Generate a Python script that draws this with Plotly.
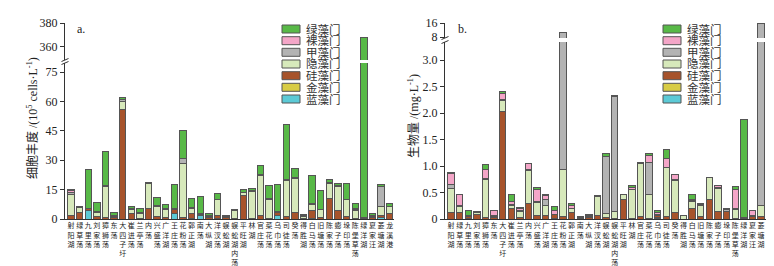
import plotly.graph_objects as go

# ---------------- data ----------------
lakes = ["射阳湖", "绿草荡", "九里荡", "刘家荡", "獐狮荡", "东荡", "大四子圩", "崔进荡", "兰亭荡", "内荡",
         "兴盛荡", "广洋湖", "王庄荡", "花粉荡", "郭正湖", "南荡", "大纵湖", "洋汊荡", "蜈蚣湖", "蜈蚣湖内荡",
         "平旺湖", "林湖", "官庄荡", "菜花荡", "乌巾荡", "司徒荡", "癸荡", "得胜湖", "白马荡", "旧塘荡",
         "陈家荡", "蟛子荡", "垛印荡", "陈堡草荡", "绿洋湖", "夏家汪", "菱塘湖", "龙溪港"]

# stacking order bottom -> top
phyla = ["蓝藻门", "金藻门", "硅藻门", "隐藻门", "甲藻门", "裸藻门", "绿藻门"]
phyla_colors = ["#5ccad6", "#d8cc45", "#a7532b", "#d7e9bb", "#b3b3b3", "#f4a6c8", "#58b947"]

# panel a: cell abundance (10^5 cells/L)
abund_lan = [0, 0, 4.5, 0, 0, 0, 0, 0, 0, 0, 0, 0, 3, 0, 0.5, 2, 0, 0, 0, 0,
             0, 0, 0, 0, 1.7, 0, 0, 0, 0.5, 0, 0, 0, 0, 0, 0, 0, 0.6, 0]
abund_jin = [0, 0, 0, 0, 0, 0, 0, 0, 0, 0, 0, 0, 0, 0, 0, 0, 0, 0.3, 0, 0,
             0, 0, 0, 0, 0.3, 0, 0, 0, 0, 0, 0, 0, 0, 0, 0, 0, 0, 0]
abund_gui = [2, 3.5, 0.8, 1.5, 0.8, 0.8, 56, 3, 0.5, 5.5, 1.2, 1, 2, 1, 2.5, 0.5, 1, 1.5, 0.8, 0.3,
             12, 0.3, 1.7, 0.3, 1.5, 1.3, 3.5, 0.3, 4, 0.7, 10.3, 4.5, 1.2, 0.2, 0.5, 1, 1.4, 2.6]
abund_yin = [10.5, 2.5, 0, 1.8, 16, 0.5, 4, 2, 2.5, 12.5, 5, 3.8, 0, 27.5, 2.5, 0, 0.5, 8, 0.3, 3.8,
             1.3, 13.5, 20.5, 9.5, 0, 18.5, 17, 1.2, 3, 4, 7.9, 12, 8.6, 4.2, 0.5, 0.5, 4.6, 3.7]
abund_jia = [1, 0.4, 0.3, 0.3, 0.5, 0.3, 1.2, 0.3, 0.3, 0.5, 0.4, 0.5, 0.3, 2.5, 0.3, 0.3, 0.2, 0, 0, 0.5,
             0.4, 0.5, 0.5, 0.5, 0.5, 0.5, 0.5, 0.2, 0.3, 0.3, 0.3, 0.5, 0.3, 0.4, 0, 0.2, 10, 0.2]
abund_luo = [0.8, 0, 0, 0, 0, 0, 0, 0, 0, 0, 0.5, 0, 0, 0, 0, 0, 0, 0, 0, 0,
             0, 0, 0, 0, 0, 0, 0, 0, 0, 0, 0, 0, 0, 0.5, 0, 0, 0, 0]
abund_lv = [0.5, 0, 19.5, 5, 17, 1.5, 0.8, 1, 2, 0, 3.8, 2, 12.5, 14, 4.5, 8.5, 1, 3, 0.5, 0,
            1.3, 1.2, 4.5, 7, 13.6, 28, 5, 0.8, 14.5, 9.5, 1.8, 1, 8, 2.4, 367, 1, 1, 1.4]

# panel b: biomass (mg/L)
bio_lan = [0, 0, 0.01, 0, 0, 0, 0, 0, 0, 0, 0, 0, 0.01, 0, 0, 0.01, 0, 0, 0, 0,
           0, 0, 0, 0, 0.01, 0, 0, 0, 0, 0, 0, 0, 0, 0, 0, 0, 0, 0]
bio_jin = [0, 0, 0, 0, 0, 0, 0, 0, 0, 0, 0, 0, 0, 0, 0, 0, 0, 0, 0, 0,
           0, 0, 0, 0, 0.01, 0, 0, 0, 0, 0, 0, 0, 0, 0, 0, 0, 0, 0]
bio_gui = [0.13, 0.12, 0.04, 0.08, 0.02, 0.02, 2.03, 0.19, 0.02, 0.3, 0.06, 0.06, 0.07, 0.05, 0.12, 0.02, 0.03, 0.07, 0.02, 0.01,
           0.37, 0.01, 0.05, 0.01, 0.04, 0.05, 0.12, 0, 0.19, 0.04, 0.37, 0.14, 0.14, 0.01, 0.01, 0.05, 0.04, 0.09]
bio_yin = [0.45, 0.12, 0.01, 0.04, 0.73, 0.02, 0.2, 0.07, 0.12, 0.62, 0.25, 0.2, 0, 0.88, 0.07, 0, 0.02, 0.35, 0.08, 0.13,
           0.09, 0.55, 1.0, 0.46, 0, 0.92, 0.6, 0.06, 0.14, 0.21, 0.41, 0.44, 0, 0.16, 0.01, 0.01, 0.22, 0.18]
bio_jia = [0.08, 0.02, 0.01, 0.01, 0.02, 0.02, 0.02, 0.02, 0.02, 0.01, 0.02, 0.1, 0.01, 9.5, 0.01, 0, 0.02, 0, 1.08, 2.17,
           0.01, 0, 0.01, 0.6, 0.02, 0, 0.02, 0.01, 0.02, 0, 0, 0.02, 0.04, 0.02, 0, 0, 15.3, 0.01]
bio_luo = [0.2, 0.2, 0, 0, 0.16, 0.1, 0.12, 0.05, 0.04, 0.11, 0.22, 0.08, 0.07, 0, 0.06, 0, 0, 0, 0, 0,
           0, 0.04, 0, 0.12, 0.05, 0.17, 0.1, 0, 0.02, 0.02, 0, 0.03, 0.01, 0.36, 0, 0.1, 0, 0]
bio_lv = [0.02, 0, 0.09, 0.02, 0.1, 0, 0.04, 0.13, 0.01, 0, 0.05, 0.02, 0.08, 0, 0.03, 0.02, 0.01, 0.02, 0.05, 0.02,
          0, 0.03, 0, 0.05, 0.03, 0.17, 0, 0, 0.1, 0.02, 0, 0, 0, 0.07, 1.85, 0, 0, 0]

abund_series = [abund_lan, abund_jin, abund_gui, abund_yin, abund_jia, abund_luo, abund_lv]
bio_series = [bio_lan, bio_jin, bio_gui, bio_yin, bio_jia, bio_luo, bio_lv]

# ---------------- layout helpers ----------------
W, H = 774, 266
ML, MR, MT, MB = 57, 0, 15, 55
PW, PH = W - ML - MR, H - MT - MB


def px_x(x):
    return (x - ML) / PW


def px_y(y):
    return (H - MB - y) / PH


SERIF = "Liberation Serif, Times New Roman, Noto Sans CJK SC, serif"
EDGE = "#555555"
xs = list(range(len(lakes)))
vert_labels = ["<br>".join(list(n)) for n in lakes]

fig = go.Figure()


def nz(vals):
    return [v if v else None for v in vals]


for series, (xa, ylo, yhi) in [(abund_series, ("x", "y", "y2")), (bio_series, ("x2", "y3", "y4"))]:
    for name, col, vals in zip(phyla, phyla_colors, series):
        for ya in (ylo, yhi):
            fig.add_trace(go.Bar(
                x=xs, y=nz(vals), name=name, xaxis=xa, yaxis=ya,
                marker=dict(color=col, line=dict(color=EDGE, width=1)),
                width=0.74, showlegend=False))

axis_common = dict(showline=True, linecolor="#333", linewidth=1, showgrid=False, zeroline=False,
                   tickfont=dict(family=SERIF, size=12, color="#222"))
xcommon = dict(showline=True, linecolor="#333", linewidth=1, showgrid=False, zeroline=False,
               range=[-0.7, 37.5], tickmode="array", tickvals=xs, ticktext=vert_labels, ticks="",
               tickangle=0, tickfont=dict(family=SERIF, size=7, color="#222"))
ycommon = dict(axis_common, ticks="outside", ticklen=4, tickcolor="#333", tickmode="array")

fig.update_layout(
    width=W, height=H, margin=dict(l=ML, r=MR, t=MT, b=MB),
    paper_bgcolor="white", plot_bgcolor="white",
    barmode="stack", bargap=0.26,
    xaxis=dict(xcommon, domain=[0, px_x(386)], anchor="y"),
    yaxis=dict(ycommon, domain=[0, px_y(55)], range=[0, 79.6], anchor="x",
               tickvals=[0, 15, 30, 45, 60, 75]),
    yaxis2=dict(ycommon, domain=[px_y(52), 1], range=[349, 380], anchor="x",
                tickvals=[360, 380]),
    xaxis2=dict(xcommon, domain=[px_x(437), px_x(766)], anchor="y3"),
    yaxis3=dict(ycommon, domain=[0, px_y(34)], range=[0, 3.34], anchor="x2",
                tickvals=[0, 0.5, 1, 1.5, 2, 2.5, 3],
                ticktext=["0", "0.5", "1.0", "1.5", "2.0", "2.5", "3.0"]),
    yaxis4=dict(ycommon, domain=[px_y(30), 1], range=[7.6, 16], anchor="x2",
                tickvals=[8, 16]),
    showlegend=False,
)

shapes = []
annotations = []

# axis break marks
for ax_x, y_top, y_bot in [(57, 52, 55), (437, 30, 34)]:
    for yc in (y_top, y_bot):
        shapes.append(dict(type="line", xref="paper", yref="paper",
                           x0=px_x(ax_x - 3.5), y0=px_y(yc + 1.5), x1=px_x(ax_x + 3.5), y1=px_y(yc - 1.5),
                           line=dict(color="#333", width=1)))

# manual legends
row_y = [21, 32.7, 44.3, 56, 67.7, 79.3, 91]
legend_order = list(zip(phyla, phyla_colors))[::-1]
for rx0, rx1, tx in [(274, 292, 296), (655, 673, 677)]:
    for (name, col), yc in zip(legend_order, row_y):
        shapes.append(dict(type="rect", xref="paper", yref="paper",
                           x0=px_x(rx0), x1=px_x(rx1), y0=px_y(yc + 4), y1=px_y(yc - 4),
                           fillcolor=col, line=dict(color=EDGE, width=1)))
        annotations.append(dict(text=name, xref="paper", yref="paper", x=px_x(tx), y=px_y(yc),
                                xanchor="left", yanchor="middle", showarrow=False,
                                font=dict(family=SERIF, size=11.5, color="#333")))

# axis titles
annotations.append(dict(text="细胞丰度 /(10<sup>5</sup> cells·L<sup>-1</sup>)", xref="paper", yref="paper",
                        x=px_x(24), y=px_y(110), textangle=-90, showarrow=False,
                        xanchor="center", yanchor="middle",
                        font=dict(family=SERIF, size=12, color="#222")))
annotations.append(dict(text="生物量 /(mg·L<sup>-1</sup>)", xref="paper", yref="paper",
                        x=px_x(405), y=px_y(108), textangle=-90, showarrow=False,
                        xanchor="center", yanchor="middle",
                        font=dict(family=SERIF, size=12, color="#222")))
# panel labels
for lbl, lx in [("a.", 67), ("b.", 448)]:
    annotations.append(dict(text=lbl, xref="paper", yref="paper", x=px_x(lx), y=px_y(21),
                            xanchor="left", yanchor="middle", showarrow=False,
                            font=dict(family=SERIF, size=12, color="#222")))

fig.update_layout(shapes=shapes, annotations=annotations)
fig.write_html("out.html")
